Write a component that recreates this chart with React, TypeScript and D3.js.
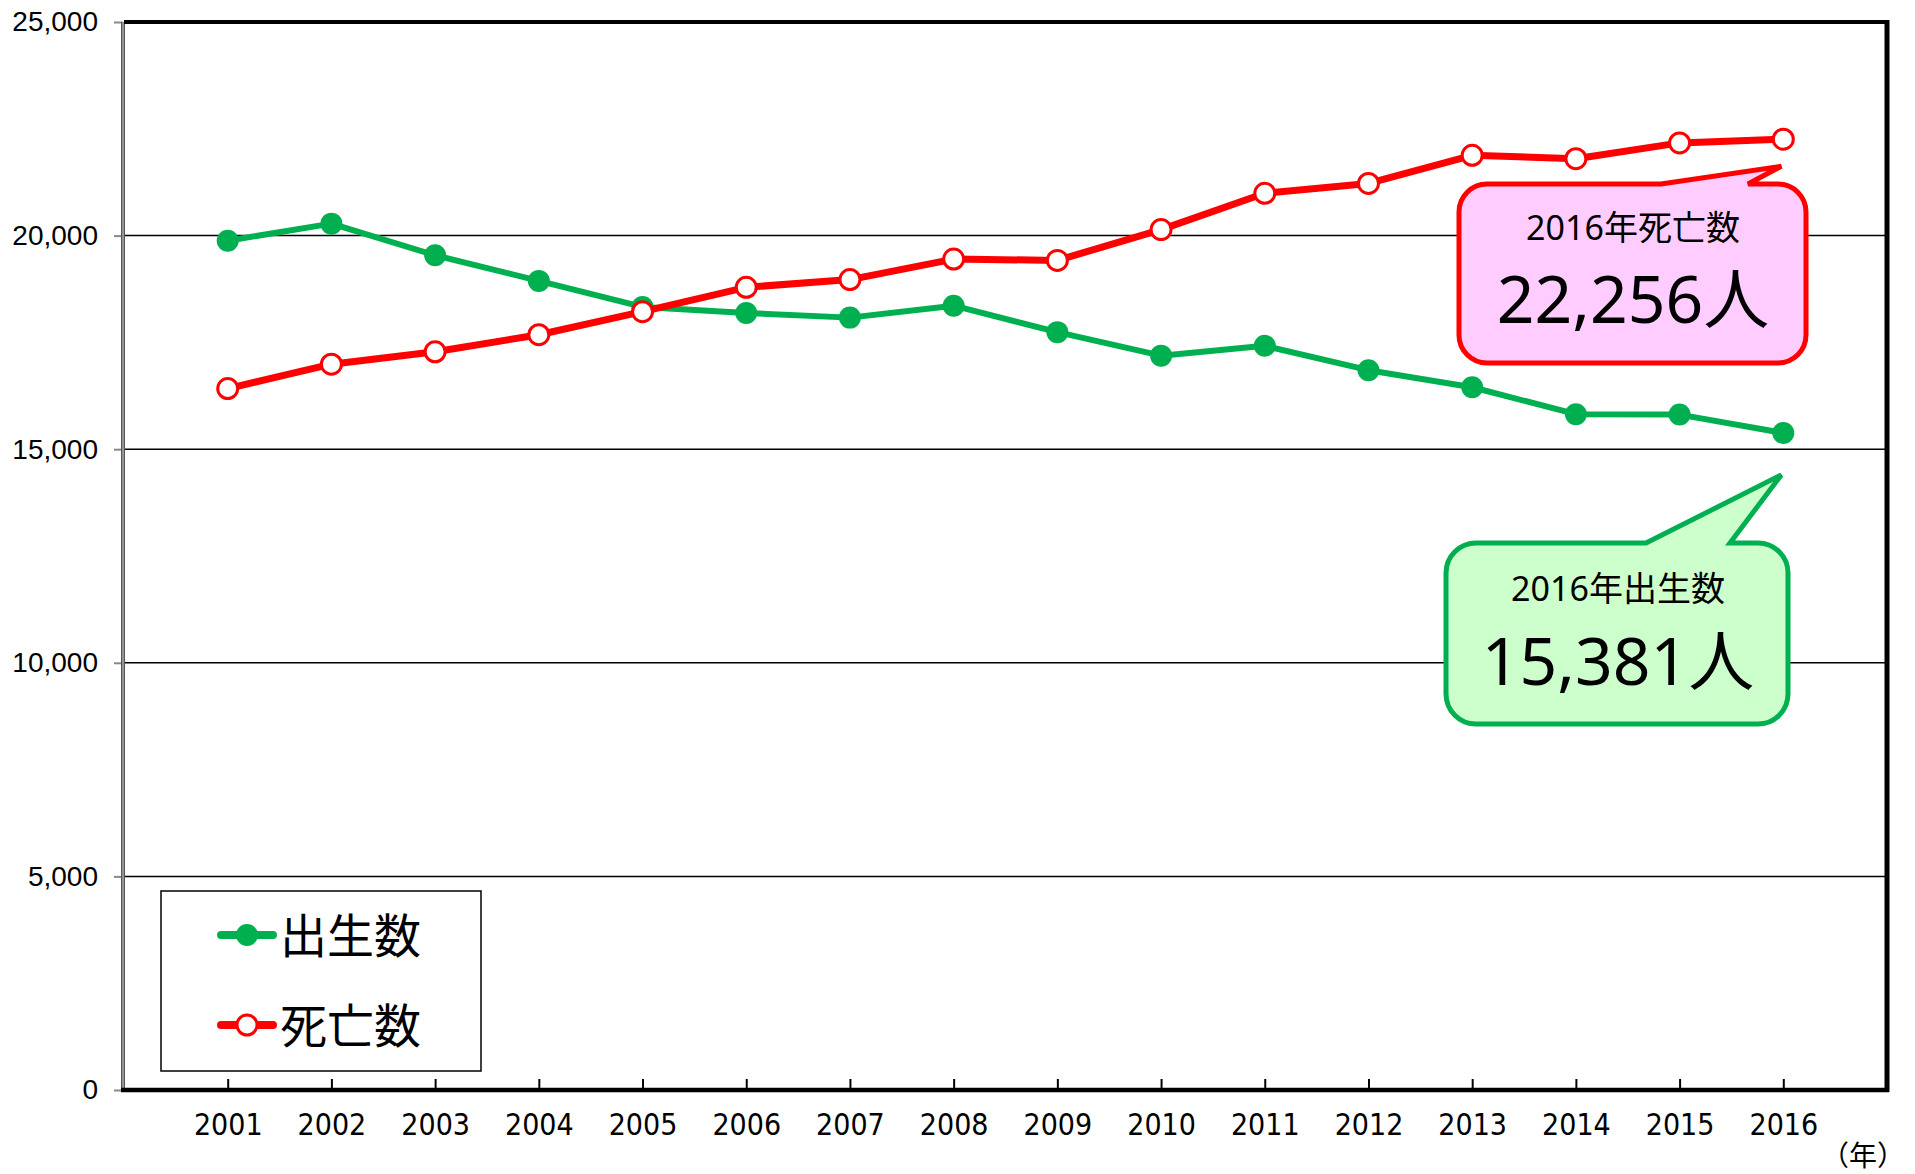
import * as d3 from "d3";
import { useEffect, useRef } from "react";

const years = [2001, 2002, 2003, 2004, 2005, 2006, 2007, 2008, 2009, 2010, 2011, 2012, 2013, 2014, 2015, 2016];
const births = [19880, 20280, 19540, 18940, 18330, 18190, 18080, 18360, 17740, 17190, 17420, 16850, 16450, 15820, 15810, 15381];
const deaths = [16420, 16990, 17280, 17680, 18220, 18790, 18970, 19450, 19420, 20140, 20990, 21220, 21880, 21800, 22170, 22256];
const yTicks = [0, 5000, 10000, 15000, 20000, 25000];

const W = 1915;
const H = 1174;
const margin = { top: 22, right: 28, bottom: 84, left: 124 };

const GREEN = "#00b050";
const RED = "#ff0000";
const BOX_FONT = "'Noto Sans', 'Noto Sans CJK JP', sans-serif";

// rounded box with a speech tail on its top edge
const bubble = (x0, y0, x1, y1, r, a, b, tx, ty) => {
	const p = d3.path();
	p.moveTo(x0 + r, y0);
	p.lineTo(a, y0);
	p.lineTo(tx, ty);
	p.lineTo(b, y0);
	p.lineTo(x1 - r, y0);
	p.arcTo(x1, y0, x1, y0 + r, r);
	p.lineTo(x1, y1 - r);
	p.arcTo(x1, y1, x1 - r, y1, r);
	p.lineTo(x0 + r, y1);
	p.arcTo(x0, y1, x0, y1 - r, r);
	p.lineTo(x0, y0 + r);
	p.arcTo(x0, y0, x0 + r, y0, r);
	p.closePath();
	return p.toString();
};

const App = () => {
	const ref = useRef(null);

	useEffect(() => {
		const svg = d3.select(ref.current);
		svg.selectAll("*").remove();

		const left = margin.left;
		const right = W - margin.right;
		const top = margin.top;
		const bottom = H - margin.bottom;

		const x = d3.scaleLinear().domain([2000, 2017]).range([left, right]);
		const y = d3.scaleLinear().domain([0, 25000]).range([bottom, top]);

		svg.append("rect").attr("width", W).attr("height", H).attr("fill", "#fff");

		// gridlines
		svg
			.append("g")
			.selectAll("line")
			.data(yTicks.filter(d => d > 0 && d < 25000))
			.enter()
			.append("line")
			.attr("x1", left)
			.attr("x2", right)
			.attr("y1", d => y(d))
			.attr("y2", d => y(d))
			.attr("stroke", "#000")
			.attr("stroke-width", 1.5);

		// y axis
		const yAxis = d3.axisLeft(y).tickValues(yTicks).tickSize(9).tickPadding(16).tickFormat(d3.format(","));
		const gy = svg.append("g").attr("transform", `translate(${left - 1}, 0)`).call(yAxis);
		gy.select(".domain").remove();
		gy.selectAll(".tick line").attr("stroke", "#888").attr("stroke-width", 2);
		gy.selectAll(".tick text")
			.attr("font-family", "'Liberation Sans', Arial, sans-serif")
			.attr("font-size", 28)
			.attr("fill", "#000");

		// x axis
		const xAxis = d3.axisBottom(x).tickValues(years).tickSizeInner(-11).tickSizeOuter(0).tickFormat(d3.format("d"));
		const gx = svg.append("g").attr("transform", `translate(0, ${bottom})`).call(xAxis);
		gx.select(".domain").remove();
		gx.selectAll(".tick line").attr("stroke", "#000").attr("stroke-width", 2);
		gx.selectAll(".tick text")
			.attr("y", 45)
			.attr("dy", 0)
			.attr("font-family", "'Liberation Sans Narrow', 'Arial Narrow', 'DejaVu Sans Condensed', sans-serif")
			.attr("font-size", 30)
			.attr("fill", "#000");

		// frame
		svg.append("line").attr("x1", left - 1).attr("x2", left - 1).attr("y1", top).attr("y2", bottom)
			.attr("stroke", "#555").attr("stroke-width", 4);
		svg.append("line").attr("x1", left - 1).attr("x2", left - 1).attr("y1", top).attr("y2", bottom)
			.attr("stroke", "#aaa").attr("stroke-width", 1.5);
		svg.append("line").attr("x1", left).attr("x2", right + 2).attr("y1", top).attr("y2", top)
			.attr("stroke", "#000").attr("stroke-width", 4);
		svg.append("line").attr("x1", right).attr("x2", right).attr("y1", top - 2).attr("y2", bottom + 2)
			.attr("stroke", "#000").attr("stroke-width", 5);
		svg.append("line").attr("x1", left - 3).attr("x2", right + 2).attr("y1", bottom).attr("y2", bottom)
			.attr("stroke", "#000").attr("stroke-width", 4.5);

		const line = d3.line().x(d => x(d[0])).y(d => y(d[1]));

		// births
		const bData = years.map((yr, i) => [yr, births[i]]);
		svg.append("path").attr("d", line(bData)).attr("fill", "none")
			.attr("stroke", GREEN).attr("stroke-width", 6).attr("stroke-linejoin", "round");
		svg.append("g").selectAll("circle").data(bData).enter().append("circle")
			.attr("cx", d => x(d[0])).attr("cy", d => y(d[1])).attr("r", 11).attr("fill", GREEN);

		// deaths
		const dData = years.map((yr, i) => [yr, deaths[i]]);
		svg.append("path").attr("d", line(dData)).attr("fill", "none")
			.attr("stroke", RED).attr("stroke-width", 7).attr("stroke-linejoin", "round");
		svg.append("g").selectAll("circle").data(dData).enter().append("circle")
			.attr("cx", d => x(d[0])).attr("cy", d => y(d[1])).attr("r", 10)
			.attr("fill", "#fff").attr("stroke", RED).attr("stroke-width", 3);

		// callouts
		const last = years.length - 1;
		const tipX = x(years[last]) - 2;
		svg.append("path")
			.attr("d", bubble(1459, 184, 1806, 363, 28, 1661, 1748, tipX, y(deaths[last]) + 27))
			.attr("fill", "#ffccff").attr("stroke", RED).attr("stroke-width", 5).attr("stroke-linejoin", "miter");
		svg.append("text").attr("x", 1633).attr("y", 240).attr("text-anchor", "middle")
			.attr("font-family", BOX_FONT).attr("font-size", 34)
			.text(`${years[last]}年死亡数`);
		svg.append("text").attr("x", 1633).attr("y", 323).attr("text-anchor", "middle")
			.attr("font-family", BOX_FONT).attr("font-size", 66)
			.text(`${d3.format(",")(deaths[last])}人`);

		svg.append("path")
			.attr("d", bubble(1446, 543, 1788, 724, 30, 1646, 1730, tipX, y(births[last]) + 42))
			.attr("fill", "#ccffcc").attr("stroke", GREEN).attr("stroke-width", 5).attr("stroke-linejoin", "miter");
		svg.append("text").attr("x", 1618).attr("y", 601).attr("text-anchor", "middle")
			.attr("font-family", BOX_FONT).attr("font-size", 34)
			.text(`${years[last]}年出生数`);
		svg.append("text").attr("x", 1618).attr("y", 685).attr("text-anchor", "middle")
			.attr("font-family", BOX_FONT).attr("font-size", 66)
			.text(`${d3.format(",")(births[last])}人`);

		// legend
		const lg = svg.append("g");
		lg.append("rect").attr("x", 161).attr("y", 891).attr("width", 320).attr("height", 180)
			.attr("fill", "#fff").attr("stroke", "#000").attr("stroke-width", 1.5);
		const items = [
			{ label: "出生数", color: GREEN, filled: true, cy: 935 },
			{ label: "死亡数", color: RED, filled: false, cy: 1025 }
		];
		items.forEach(item => {
			lg.append("line").attr("x1", 221).attr("x2", 273).attr("y1", item.cy).attr("y2", item.cy)
				.attr("stroke", item.color).attr("stroke-width", 8).attr("stroke-linecap", "round");
			lg.append("circle").attr("cx", 247).attr("cy", item.cy).attr("r", item.filled ? 11 : 10)
				.attr("fill", item.filled ? item.color : "#fff")
				.attr("stroke", item.color).attr("stroke-width", item.filled ? 0 : 3);
			lg.append("text").attr("x", 280).attr("y", item.cy + 18)
				.attr("font-family", "'Noto Sans CJK JP', sans-serif").attr("font-size", 47)
				.text(item.label);
		});

		// unit
		svg.append("text").attr("x", 1905).attr("y", 1166).attr("text-anchor", "end")
			.attr("font-family", "'Noto Sans CJK JP', sans-serif").attr("font-size", 28)
			.text("（年）");
	}, []);

	return (
		<svg ref={ref} width={W} height={H} style={{ position: "absolute", left: 0, top: 0 }}></svg>
	);
};

export default App;
